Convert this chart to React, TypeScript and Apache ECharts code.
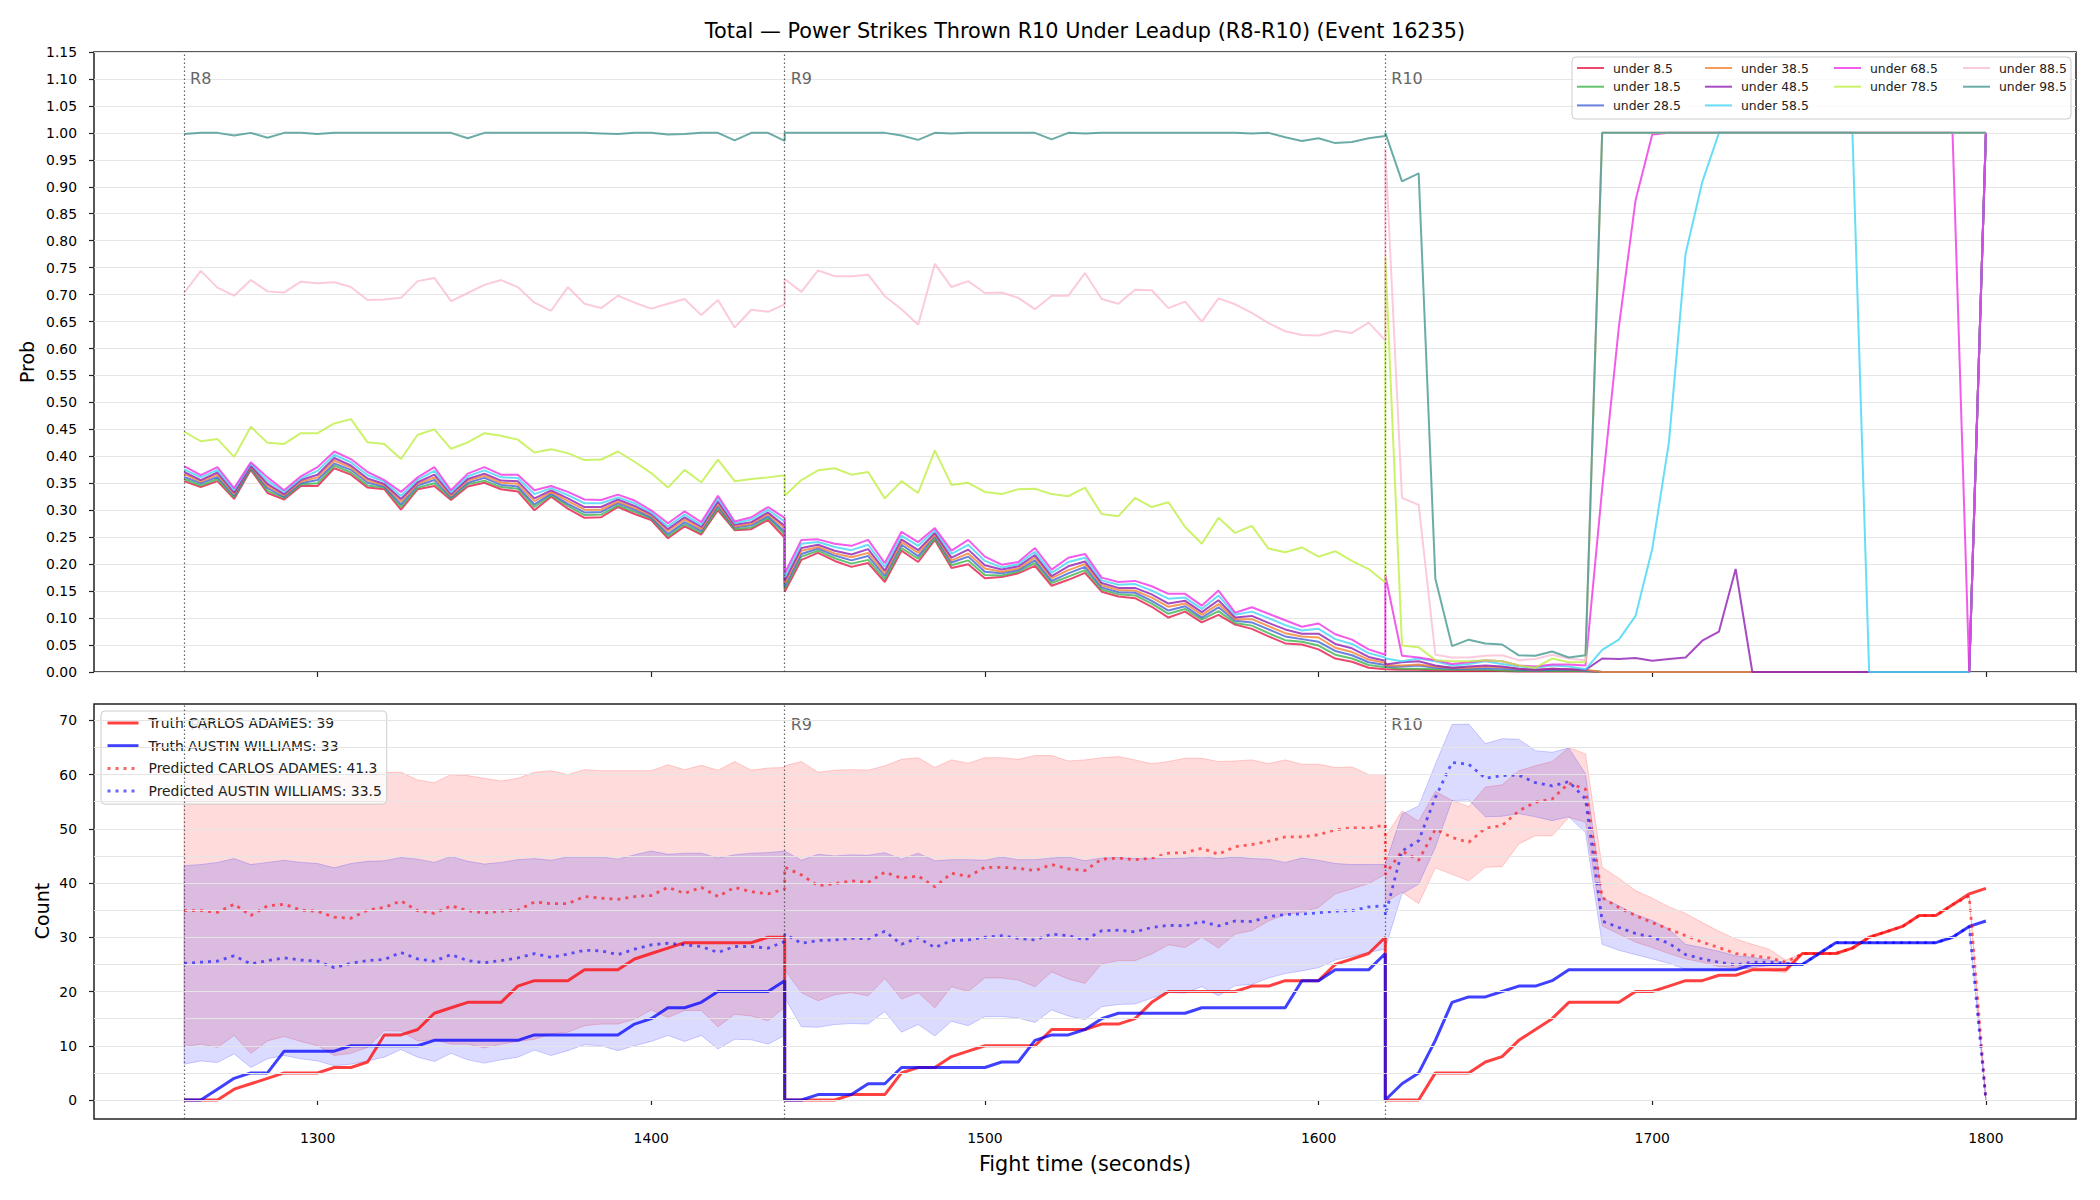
import React, { useEffect, useRef } from 'react';
import * as echarts from 'echarts';

// ---------- time grid ----------
const ROUND_STARTS = [1260, 1440, 1620];
const ROUND_LABELS = ['R8', 'R9', 'R10'];
const ROUND_OFFSETS = [0, 5, 10, 15, 20, 25, 30, 35, 40, 45, 50, 55, 60, 65, 70, 75, 80, 85, 90, 95, 100, 105, 110, 115, 120, 125, 130, 135, 140, 145, 150, 155, 160, 165, 170, 175, 180];
const X_TICKS = [1300, 1400, 1500, 1600, 1700, 1800];
const COUNT_TICKS = [0, 10, 20, 30, 40, 50, 60, 70];
const COUNT_GRID = [0, 5, 10, 15, 20, 25, 30, 35, 40, 45, 50, 55, 60, 65, 70];
const ROUND_LABEL_Y_PROB = 1.1;
const ROUND_LABEL_Y_COUNT = 69.3;

const TITLE = 'Total — Power Strikes Thrown R10 Under Leadup (R8-R10) (Event 16235)';

// ---------- top panel: P(under X) per round ----------
const under8_5 = [
  [0.354,0.343,0.354,0.321,0.375,0.332,0.320,0.345,0.345,0.378,0.366,0.342,0.339,0.301,0.339,0.345,0.319,0.344,0.351,0.339,0.335,0.300,0.325,0.303,0.286,0.287,0.306,0.293,0.282,0.248,0.270,0.255,0.300,0.263,0.265,0.282,0.249],
  [0.149,0.208,0.221,0.206,0.195,0.202,0.167,0.225,0.204,0.245,0.193,0.200,0.174,0.176,0.183,0.197,0.160,0.171,0.184,0.149,0.140,0.137,0.121,0.101,0.112,0.092,0.106,0.088,0.080,0.066,0.053,0.051,0.042,0.025,0.019,0.008,0.005],
  [0.006,0.004,0.004,0.003,0.002,0.002,0.002,0.002,0.001,0.001,0.001,0.001,0.001,0,0,0,0,0,0,0,0,0,0,0,0,0,0,0,0,0,0,0,0,0,0,0,1],
];
const under18_5 = [
  [0.358,0.346,0.358,0.324,0.377,0.336,0.323,0.348,0.350,0.383,0.370,0.346,0.342,0.306,0.342,0.350,0.322,0.348,0.355,0.343,0.340,0.306,0.328,0.308,0.291,0.292,0.309,0.297,0.285,0.252,0.274,0.258,0.304,0.265,0.268,0.286,0.255],
  [0.154,0.214,0.225,0.211,0.201,0.208,0.172,0.230,0.210,0.248,0.198,0.207,0.180,0.179,0.186,0.202,0.165,0.177,0.189,0.153,0.144,0.142,0.127,0.108,0.117,0.097,0.113,0.091,0.086,0.072,0.059,0.056,0.049,0.032,0.025,0.013,0.009],
  [0.008,0.006,0.006,0.005,0.004,0.004,0.004,0.003,0.002,0.002,0.002,0.002,0.002,0,0,0,0,0,0,0,0,0,0,0,0,0,0,0,0,0,0,0,0,0,0,0,1],
];
const under28_5 = [
  [0.362,0.350,0.362,0.327,0.379,0.341,0.325,0.350,0.356,0.387,0.375,0.351,0.344,0.311,0.346,0.356,0.324,0.351,0.360,0.347,0.344,0.311,0.331,0.312,0.296,0.297,0.313,0.301,0.287,0.256,0.278,0.262,0.308,0.268,0.272,0.289,0.260],
  [0.159,0.219,0.229,0.216,0.207,0.215,0.178,0.236,0.215,0.252,0.203,0.214,0.186,0.183,0.189,0.207,0.169,0.183,0.195,0.157,0.148,0.147,0.132,0.114,0.122,0.101,0.120,0.095,0.092,0.079,0.066,0.061,0.056,0.039,0.031,0.018,0.013],
  [0.010,0.010,0.012,0.008,0.006,0.006,0.007,0.006,0.004,0.003,0.004,0.004,0.003,0,0,0,0,0,0,0,0,0,0,0,0,0,0,0,0,0,0,0,0,0,0,0,1],
];
const under38_5 = [
  [0.367,0.353,0.366,0.330,0.381,0.345,0.328,0.353,0.361,0.392,0.379,0.355,0.347,0.316,0.349,0.361,0.327,0.355,0.364,0.351,0.349,0.317,0.334,0.317,0.301,0.301,0.316,0.304,0.290,0.261,0.283,0.265,0.312,0.270,0.275,0.293,0.266],
  [0.164,0.225,0.232,0.220,0.213,0.221,0.183,0.241,0.221,0.255,0.207,0.220,0.192,0.186,0.192,0.212,0.174,0.189,0.200,0.161,0.152,0.151,0.138,0.121,0.127,0.106,0.126,0.098,0.098,0.085,0.072,0.066,0.064,0.045,0.037,0.023,0.017],
  [0.012,0.012,0.014,0.010,0.008,0.008,0.010,0.009,0.006,0.004,0.006,0.005,0.004,0,0,0,0,0,0,0,0,0,0,0,0,0,0,0,0,0,0,0,0,0,0,0,1],
];
const under48_5 = [
  [0.371,0.356,0.370,0.333,0.383,0.349,0.330,0.356,0.366,0.397,0.383,0.359,0.349,0.321,0.352,0.366,0.330,0.358,0.368,0.355,0.354,0.322,0.337,0.322,0.306,0.306,0.320,0.308,0.293,0.265,0.287,0.269,0.316,0.273,0.278,0.296,0.271],
  [0.169,0.230,0.236,0.225,0.218,0.228,0.188,0.246,0.226,0.258,0.212,0.227,0.198,0.190,0.196,0.217,0.178,0.196,0.205,0.165,0.156,0.156,0.144,0.127,0.132,0.111,0.133,0.101,0.104,0.091,0.079,0.071,0.071,0.052,0.044,0.028,0.021],
  [0.014,0.018,0.020,0.012,0.008,0.010,0.012,0.010,0.006,0.004,0.006,0.005,0.004,0.025,0.024,0.026,0.021,0.024,0.027,0.058,0.075,0.191,0,0,0,0,0,0,0,0,0,0,0,0,0,0,1],
];
const under58_5 = [
  [0.376,0.361,0.375,0.337,0.386,0.355,0.334,0.359,0.373,0.403,0.389,0.365,0.353,0.327,0.357,0.373,0.333,0.363,0.374,0.361,0.360,0.330,0.341,0.328,0.313,0.313,0.324,0.313,0.296,0.270,0.292,0.273,0.322,0.276,0.283,0.301,0.279],
  [0.176,0.238,0.241,0.232,0.226,0.236,0.195,0.253,0.234,0.263,0.219,0.236,0.206,0.194,0.200,0.223,0.184,0.204,0.212,0.170,0.162,0.163,0.151,0.136,0.138,0.117,0.142,0.106,0.112,0.100,0.087,0.077,0.080,0.061,0.052,0.035,0.027],
  [0.025,0.020,0.025,0.020,0.012,0.015,0.020,0.015,0.010,0.008,0.012,0.010,0.005,0.041,0.060,0.104,0.228,0.426,0.776,0.909,1,1,1,1,1,1,1,1,1,0,0,0,0,0,0,0,1],
];
const under68_5 = [
  [0.382,0.365,0.380,0.341,0.389,0.361,0.337,0.363,0.380,0.409,0.395,0.371,0.356,0.334,0.361,0.380,0.337,0.368,0.380,0.366,0.366,0.337,0.345,0.334,0.320,0.319,0.329,0.318,0.300,0.276,0.298,0.278,0.327,0.279,0.287,0.306,0.286],
  [0.183,0.245,0.246,0.238,0.234,0.245,0.202,0.260,0.241,0.267,0.225,0.245,0.214,0.199,0.204,0.230,0.190,0.212,0.219,0.175,0.167,0.169,0.159,0.145,0.145,0.123,0.151,0.110,0.120,0.108,0.096,0.084,0.090,0.070,0.060,0.042,0.032],
  [0.180,0.030,0.027,0.022,0.015,0.018,0.022,0.020,0.012,0.010,0.014,0.014,0.012,0.340,0.640,0.875,0.997,1,1,1,1,1,1,1,1,1,1,1,1,1,1,1,1,1,1,0,1],
];
const under78_5 = [
  [0.446,0.428,0.432,0.399,0.455,0.425,0.423,0.443,0.443,0.461,0.469,0.426,0.423,0.395,0.440,0.450,0.414,0.426,0.443,0.438,0.431,0.407,0.413,0.406,0.393,0.394,0.409,0.390,0.369,0.342,0.375,0.352,0.394,0.354,0.358,0.361,0.365],
  [0.327,0.356,0.374,0.378,0.366,0.371,0.322,0.354,0.332,0.411,0.347,0.351,0.334,0.330,0.339,0.340,0.330,0.326,0.342,0.293,0.289,0.323,0.306,0.315,0.269,0.238,0.286,0.258,0.271,0.229,0.222,0.231,0.214,0.224,0.206,0.191,0.166],
  [0.770,0.049,0.046,0.022,0.020,0.020,0.022,0.020,0.012,0.008,0.025,0.018,0.018,1,1,1,1,1,1,1,1,1,1,1,1,1,1,1,1,1,1,1,1,1,1,1,1],
];
const under88_5 = [
  [0.703,0.744,0.713,0.698,0.727,0.706,0.704,0.724,0.721,0.723,0.714,0.690,0.691,0.694,0.725,0.731,0.688,0.703,0.718,0.727,0.714,0.685,0.670,0.714,0.683,0.675,0.698,0.685,0.674,0.683,0.692,0.662,0.690,0.639,0.672,0.668,0.682],
  [0.729,0.705,0.745,0.734,0.734,0.737,0.697,0.673,0.644,0.757,0.714,0.725,0.703,0.704,0.694,0.673,0.698,0.698,0.740,0.692,0.683,0.709,0.708,0.675,0.687,0.650,0.693,0.682,0.666,0.647,0.632,0.625,0.624,0.633,0.629,0.648,0.615],
  [0.970,0.323,0.310,0.032,0.027,0.027,0.030,0.031,0.022,0.024,0.032,0.025,0.022,1,1,1,1,1,1,1,1,1,1,1,1,1,1,1,1,1,1,1,1,1,1,1,1],
];
const under98_5 = [
  [0.998,1,1,0.995,1,0.991,1,1,0.998,1,1,1,1,1,1,1,1,0.990,1,1,1,1,1,1,1,0.999,0.998,1,1,0.997,0.998,1,1,0.986,1,1,0.985],
  [1,1,1,1,1,1,1,0.995,0.987,1,0.999,1,1,1,1,1,0.988,1,0.999,1,1,1,1,1,1,1,1,1,0.999,1,0.992,0.985,0.990,0.981,0.983,0.990,0.994],
  [1,0.910,0.925,0.173,0.048,0.060,0.053,0.051,0.031,0.030,0.038,0.027,0.031,1,1,1,1,1,1,1,1,1,1,1,1,1,1,1,1,1,1,1,1,1,1,1,1],
];

const TOP_SERIES = [
  { name: 'under 8.5', color: '#e6194b', rounds: under8_5 },
  { name: 'under 18.5', color: '#3cb44b', rounds: under18_5 },
  { name: 'under 28.5', color: '#4363d8', rounds: under28_5 },
  { name: 'under 38.5', color: '#f58231', rounds: under38_5 },
  { name: 'under 48.5', color: '#911eb4', rounds: under48_5 },
  { name: 'under 58.5', color: '#42d4f4', rounds: under58_5 },
  { name: 'under 68.5', color: '#f032e6', rounds: under68_5 },
  { name: 'under 78.5', color: '#bfef45', rounds: under78_5 },
  { name: 'under 88.5', color: '#fabed4', rounds: under88_5 },
  { name: 'under 98.5', color: '#469990', rounds: under98_5 },
];
const TOP_LEGEND_COLUMNS = [
  ['under 8.5', 'under 18.5', 'under 28.5'],
  ['under 38.5', 'under 48.5', 'under 58.5'],
  ['under 68.5', 'under 78.5'],
  ['under 88.5', 'under 98.5'],
];

// ---------- bottom panel: counts ----------
const truthCarlos = [
  [0,0,0,2,3,4,5,5,5,6,6,7,12,12,13,16,17,18,18,18,21,22,22,22,24,24,24,26,27,28,29,29,29,29,29,30,30],
  [0,0,0,0,1,1,1,5,6,6,8,9,10,10,10,10,13,13,13,14,14,15,18,20,20,20,20,20,21,21,22,22,22,25,26,27,30],
  [0,0,0,5,5,5,7,8,11,13,15,18,18,18,18,20,20,21,22,22,23,23,24,24,24,27,27,27,28,30,31,32,34,34,36,38,39],
];
const truthAustin = [
  [0,0,2,4,5,5,9,9,9,9,10,10,10,10,10,11,11,11,11,11,11,12,12,12,12,12,12,14,15,17,17,18,20,20,20,20,22],
  [0,0,1,1,1,3,3,6,6,6,6,6,6,7,7,11,12,12,13,15,16,16,16,16,16,17,17,17,17,17,17,22,22,24,24,24,27],
  [0,3,5,11,18,19,19,20,21,21,22,24,24,24,24,24,24,24,24,24,24,24,25,25,25,25,27,29,29,29,29,29,29,29,30,32,33],
];
const predCarlos = [
  [34.9,34.9,34.6,36.1,34.0,35.8,36.1,35.0,34.8,33.7,33.5,35.0,35.5,36.7,34.9,34.4,35.8,34.9,34.5,34.8,35.0,36.5,36.2,36.2,37.5,37.2,37.0,37.5,37.7,39.2,38.1,39.2,37.5,39.2,38.4,38.0,38.9],
  [42.9,41.5,39.5,39.9,40.4,40.1,42.0,40.9,41.3,39.3,41.8,41.2,42.9,42.9,42.7,42.3,43.4,42.6,42.3,44.4,44.6,44.3,44.6,45.5,45.6,46.4,45.3,46.7,47.1,47.7,48.5,48.5,48.9,49.8,50.2,50.1,50.7],
  [41.6,45.9,44.2,49.9,48.4,47.5,50.1,50.6,53.3,54.9,55.5,58.4,57.3,37.3,35.5,34.0,32.7,31.5,30.3,29.1,28.1,27.0,26.6,26.2,25.4,27,27,27,28,30,31,32,34,34,36,37.6,0],
];
const predAustin = [
  [25.2,25.4,25.6,26.6,25.1,25.7,26.2,25.8,25.6,24.4,25.2,25.7,25.9,27.2,26.0,25.6,26.8,25.7,25.3,25.7,26.2,27.0,26.3,26.9,27.6,27.5,26.8,27.8,28.6,28.9,28.6,28.3,27.2,28.3,28.3,28.0,29.2],
  [30.6,28.9,29.4,29.5,29.8,29.7,31.1,28.7,29.9,28.1,29.4,29.5,30.0,30.3,29.8,29.5,30.6,30.3,29.5,31.2,31.3,31.0,31.8,32.2,32.1,32.9,32.1,33.0,32.9,33.8,34.2,34.3,34.5,34.8,34.9,35.6,35.8],
  [34.0,45.9,47.8,55.8,62.2,61.9,59.3,59.8,59.9,58.5,57.9,58.7,55.5,33.0,31.8,30.7,30.0,28.9,26.8,26.0,25.4,24.9,25.4,25.4,25.2,25,27,29,29,29,29,29,29,29,30,32,0],
];
const carlosUpper = [
  [60.0,60.3,59.8,60.5,59.5,60.2,60.6,59.9,59.6,59.2,59.8,60.5,60.4,60.4,59.0,58.5,60.0,59.8,59.3,58.8,59.3,60.4,60.7,60.0,60.9,60.7,60.7,60.7,60.7,61.8,60.9,61.7,60.8,62.4,60.8,61.2,61.3],
  [61.6,62.4,60.4,60.8,60.9,60.8,61.6,62.8,63.1,61.3,62.7,62.1,63.1,63.1,62.8,63.5,63.5,62.5,62.7,63.1,63.3,62.7,62.0,62.4,63.0,63.0,62.4,62.5,62.7,62.0,62.7,61.9,61.9,61.3,61.4,60.0,60.0],
  [48.5,53.3,51.4,56.9,55.2,54.1,57.7,58.1,60.7,61.6,62.4,65.0,63.8,42.9,40.9,38.6,37.2,35.6,34.4,32.7,31.1,29.7,28.7,27.8,25.8,27,27,27,28,30,31,32,34,34,36,37.6,0],
];
const carlosLower = [
  [9.8,10.3,9.7,11.9,8.6,10.9,11.7,10.8,10.0,8.2,8.6,9.7,12.8,12.7,10.9,11.1,10.3,10.3,9.6,10.3,10.8,11.2,12.2,12.5,13.7,14.0,14.0,14.9,16.6,15.2,16.5,16.5,13.5,15.8,15.5,14.6,17.1],
  [24.0,19.8,18.3,19.4,19.8,19.2,22.4,18.6,19.8,17.0,20.9,20.0,22.5,22.5,22.1,20.9,23.6,22.3,21.5,25.1,25.7,25.7,26.9,28.6,28.1,30.0,28.0,30.6,31.2,33.0,34.2,34.6,35.5,38.0,38.9,39.9,41.6],
  [36.5,38.3,36.2,42.8,41.6,40.4,42.9,43.0,47.2,48.7,48.7,52.1,51.2,32.1,30.6,29.1,28.1,27.0,26.0,25.4,24.6,24.4,24.1,23.8,23.5,27,27,27,28,30,31,32,34,34,36,37.6,0],
];
const austinUpper = [
  [43.2,43.4,43.8,44.5,43.4,43.8,44.2,43.8,43.6,42.8,43.6,44.0,44.1,44.7,44.4,43.8,44.9,44.0,43.5,43.8,44.3,44.5,44.2,44.8,44.8,44.8,44.4,45.2,45.9,45.3,45.5,45.5,44.6,45.2,45.5,45.6,45.9],
  [45.9,44.2,45.3,45.0,45.2,45.1,45.6,44.4,45.5,44.1,44.3,44.3,44.2,44.8,44.3,44.3,44.6,44.8,44.1,44.6,44.7,44.5,44.5,44.5,44.6,44.9,44.5,44.8,44.5,44.4,43.8,44.6,44.2,43.6,43.4,43.4,43.4],
  [43.5,52.7,54.2,61.9,69.2,69.3,65.7,66.6,66.5,64.4,64.1,64.9,60.1,37.3,35.8,34.2,33.1,31.5,28.7,28.1,27.4,26.6,26.3,25.8,25.4,25,27,29,29,29,29,29,29,29,30,32,0],
];
const austinLower = [
  [6.6,7.2,6.9,8.5,6.0,7.6,8.2,7.6,7.2,6.3,6.6,7.2,7.9,9.3,7.9,7.1,8.6,7.4,6.8,7.4,7.9,9.2,8.2,9.1,10.2,10.0,9.1,10.0,10.8,11.9,10.8,11.9,9.4,11.2,11.1,10.3,11.9],
  [18.9,13.5,13.4,13.9,14.1,14.0,16.3,12.5,13.9,11.8,14.5,13.7,15.4,15.4,15.1,14.3,16.6,15.5,14.8,17.2,17.6,17.7,18.8,19.8,19.7,20.9,19.2,21.1,21.3,22.5,23.3,23.8,24.4,25.8,26.5,27.2,27.8],
  [28.0,38.0,39.8,46.6,55.2,55.3,52.2,52.3,52.8,52.2,51.5,52.2,49.3,28.7,27.6,26.8,26.0,25.2,24.1,24.0,24.0,24.0,24.4,24.8,24.9,25,27,29,29,29,29,29,29,29,30,32,0],
];

const BOTTOM_NAMES = [
  'Truth CARLOS ADAMES: 39',
  'Truth AUSTIN WILLIAMS: 33',
  'Predicted CARLOS ADAMES: 41.3',
  'Predicted AUSTIN WILLIAMS: 33.5',
];

const FONT = 'DejaVu Sans';

function toPairs(rounds: number[][]): number[][] {
  const out: number[][] = [];
  rounds.forEach((vals, r) => {
    vals.forEach((v, k) => {
      out.push([ROUND_STARTS[r] + ROUND_OFFSETS[k], v]);
    });
  });
  return out;
}

function bandSeries(upper: number[][], lower: number[][], fill: string, stroke: string) {
  const up = toPairs(upper);
  const lo = toPairs(lower);
  return {
    type: 'custom',
    xAxisIndex: 1,
    yAxisIndex: 1,
    silent: true,
    clip: true,
    z: 1,
    data: [up[0]],
    renderItem: (_params: any, api: any) => {
      const pts = up.map((p) => api.coord(p)).concat(lo.slice().reverse().map((p) => api.coord(p)));
      return {
        type: 'polygon',
        shape: { points: pts },
        style: { fill, stroke, lineWidth: 1 },
      };
    },
  };
}

function roundLineSeries(xIdx: number, yIdx: number, anchorY: number) {
  return {
    type: 'scatter',
    xAxisIndex: xIdx,
    yAxisIndex: yIdx,
    silent: true,
    symbolSize: 0,
    z: 3,
    data: [[ROUND_STARTS[0], anchorY]],
    markLine: {
      silent: true,
      symbol: ['none', 'none'],
      label: { show: false },
      lineStyle: { type: [1.5, 2.5], color: 'rgba(60,60,60,0.8)', width: 1.2 },
      data: ROUND_STARTS.map((t) => ({ xAxis: t })),
    },
  };
}

export default function App() {
  const ref = useRef<HTMLDivElement>(null);

  useEffect(() => {
    document.body.style.margin = '0';
    if (!ref.current) return;
    const chart = echarts.init(ref.current, undefined, { renderer: 'svg' });

    const axisTickStyle = { show: true, length: 5, lineStyle: { color: '#222', width: 1.2 } };
    const labelStyle = { color: '#000', fontSize: 13.9, fontFamily: FONT };

    const topLegendBase = {
      orient: 'vertical',
      top: 61,
      padding: 0,
      itemWidth: 27,
      itemHeight: 14,
      itemGap: 4.7,
      selectedMode: false,
      z: 4,
      textStyle: { fontSize: 12.4, lineHeight: 14, color: '#222', fontFamily: FONT, padding: [0, 0, 0, 4] },
      lineStyle: { width: 2 },
      itemStyle: { opacity: 0, borderWidth: 0 },
    };
    const colLefts = [1576, 1704, 1833, 1962];

    const series: any[] = [];
    // gridlines bottom panel
    series.push({
      type: 'scatter',
      xAxisIndex: 1,
      yAxisIndex: 1,
      silent: true,
      symbolSize: 0,
      z: 0,
      data: [[ROUND_STARTS[0], 0]],
      markLine: {
        silent: true,
        symbol: ['none', 'none'],
        label: { show: false },
        lineStyle: { type: 'solid', color: '#e5e5e5', width: 1 },
        data: COUNT_GRID.map((v) => ({ yAxis: v })),
      },
    });

    TOP_SERIES.forEach((s) => {
      series.push({
        type: 'line',
        name: s.name,
        xAxisIndex: 0,
        yAxisIndex: 0,
        data: toPairs(s.rounds),
        symbol: 'none',
        showSymbol: false,
        z: 2,
        itemStyle: { color: s.color },
        lineStyle: { color: s.color, width: 2, opacity: 0.8 },
        emphasis: { disabled: true },
      });
    });
    series.push(roundLineSeries(0, 0, ROUND_LABEL_Y_PROB));

    series.push(bandSeries(carlosUpper, carlosLower, 'rgba(255,0,0,0.14)', 'rgba(255,0,0,0.18)'));
    series.push(bandSeries(austinUpper, austinLower, 'rgba(0,0,255,0.14)', 'rgba(0,0,255,0.18)'));

    const bottomLines = [
      { name: BOTTOM_NAMES[0], rounds: truthCarlos, color: 'rgba(255,0,0,0.75)', type: 'solid', width: 3 },
      { name: BOTTOM_NAMES[1], rounds: truthAustin, color: 'rgba(0,0,255,0.75)', type: 'solid', width: 3 },
      { name: BOTTOM_NAMES[2], rounds: predCarlos, color: 'rgba(255,0,0,0.6)', type: [3, 5], width: 2.8 },
      { name: BOTTOM_NAMES[3], rounds: predAustin, color: 'rgba(0,0,255,0.6)', type: [3, 5], width: 2.8 },
    ];
    bottomLines.forEach((s) => {
      series.push({
        type: 'line',
        name: s.name,
        xAxisIndex: 1,
        yAxisIndex: 1,
        data: toPairs(s.rounds),
        symbol: 'none',
        showSymbol: false,
        z: 2,
        itemStyle: { color: s.color },
        lineStyle: { color: s.color, width: s.width, type: s.type as any, cap: 'butt' },
        emphasis: { disabled: true },
      });
    });
    series.push(roundLineSeries(1, 1, ROUND_LABEL_Y_COUNT));

    const baseGraphic: any[] = [
      {
        type: 'rect', z: 3, silent: true,
        shape: { x: 1572, y: 57, width: 499, height: 62, r: 4 },
        style: { fill: 'rgba(255,255,255,0.8)', stroke: '#cccccc', lineWidth: 1 },
      },
      {
        type: 'text', x: 1085, y: 31, z: 5, silent: true,
        style: { text: TITLE, fontSize: 20.8, fontFamily: FONT, fill: '#000', align: 'center', verticalAlign: 'middle' },
      },
      {
        type: 'text', x: 27, y: 362, rotation: Math.PI / 2, z: 5, silent: true,
        style: { text: 'Prob', fontSize: 19, fontFamily: FONT, fill: '#000', align: 'center', verticalAlign: 'middle' },
      },
      {
        type: 'text', x: 42, y: 911, rotation: Math.PI / 2, z: 5, silent: true,
        style: { text: 'Count', fontSize: 19, fontFamily: FONT, fill: '#000', align: 'center', verticalAlign: 'middle' },
      },
      {
        type: 'text', x: 1085, y: 1164, z: 5, silent: true,
        style: { text: 'Fight time (seconds)', fontSize: 20.8, fontFamily: FONT, fill: '#000', align: 'center', verticalAlign: 'middle' },
      },
    ];

    const option: any = {
      animation: false,
      textStyle: { fontFamily: FONT },
      grid: [
        { left: 94, top: 52, width: 1982, height: 620, show: true, borderColor: '#222', borderWidth: 1.5, backgroundColor: 'transparent', containLabel: false, outerBoundsMode: 'none' },
        { left: 94, top: 704, width: 1982, height: 415, show: true, borderColor: '#222', borderWidth: 1.5, backgroundColor: 'transparent', containLabel: false, outerBoundsMode: 'none' },
      ],
      xAxis: [
        {
          type: 'value', gridIndex: 0, min: 1233, max: 1827,
          axisLine: { show: false },
          axisTick: { ...axisTickStyle, customValues: X_TICKS },
          axisLabel: { show: false, customValues: X_TICKS },
          splitLine: { show: false },
        },
        {
          type: 'value', gridIndex: 1, min: 1233, max: 1827,
          axisLine: { show: false },
          axisTick: { ...axisTickStyle, customValues: X_TICKS },
          axisLabel: { ...labelStyle, margin: 12, customValues: X_TICKS, formatter: (v: number) => String(v) },
          splitLine: { show: false },
        },
      ],
      yAxis: [
        {
          type: 'value', gridIndex: 0, min: 0, max: 1.15, interval: 0.05,
          axisLine: { show: false },
          axisTick: axisTickStyle,
          axisLabel: { ...labelStyle, margin: 17, formatter: (v: number) => v.toFixed(2) },
          splitLine: { show: true, lineStyle: { color: '#e5e5e5', width: 1 } },
        },
        {
          type: 'value', gridIndex: 1, min: -3.5, max: 73,
          axisLine: { show: false },
          axisTick: { ...axisTickStyle, customValues: COUNT_TICKS },
          axisLabel: { ...labelStyle, margin: 17, customValues: COUNT_TICKS, formatter: (v: number) => String(v) },
          splitLine: { show: false },
        },
      ],
      legend: [
        ...TOP_LEGEND_COLUMNS.map((col, i) => ({ ...topLegendBase, left: colLefts[i], data: col })),
        {
          orient: 'vertical',
          left: 101,
          top: 711,
          padding: [4, 5, 5, 5],
          itemWidth: 31,
          itemHeight: 16,
          itemGap: 6.7,
          selectedMode: false,
          backgroundColor: 'rgba(255,255,255,0.8)',
          borderColor: '#cccccc',
          borderWidth: 1,
          borderRadius: 4,
          z: 4,
          textStyle: { fontSize: 13.9, lineHeight: 16, color: '#222', fontFamily: FONT, padding: [0, 0, 0, 5] },
          lineStyle: { width: 3 },
          itemStyle: { opacity: 0, borderWidth: 0 },
          data: BOTTOM_NAMES,
        },
      ],
      graphic: baseGraphic,
      series,
    };

    chart.setOption(option);

    // Round labels placed through the chart's own axis scales
    const roundTexts: any[] = [];
    ROUND_STARTS.forEach((t, i) => {
      const pTop = chart.convertToPixel({ xAxisIndex: 0, yAxisIndex: 0 } as any, [t, ROUND_LABEL_Y_PROB]) as number[];
      const pBot = chart.convertToPixel({ xAxisIndex: 1, yAxisIndex: 1 } as any, [t, ROUND_LABEL_Y_COUNT]) as number[];
      [pTop, pBot].forEach((p) => {
        if (!p) return;
        roundTexts.push({
          type: 'text', x: p[0] + 6, y: p[1], z: 3, silent: true,
          style: { text: ROUND_LABELS[i], fontSize: 16, fontFamily: FONT, fill: '#666666', align: 'left', verticalAlign: 'middle' },
        });
      });
    });
    chart.setOption({ graphic: baseGraphic.concat(roundTexts) });

    return () => {
      chart.dispose();
    };
  }, []);

  return <div ref={ref} style={{ width: 2100, height: 1200 }} />;
}
